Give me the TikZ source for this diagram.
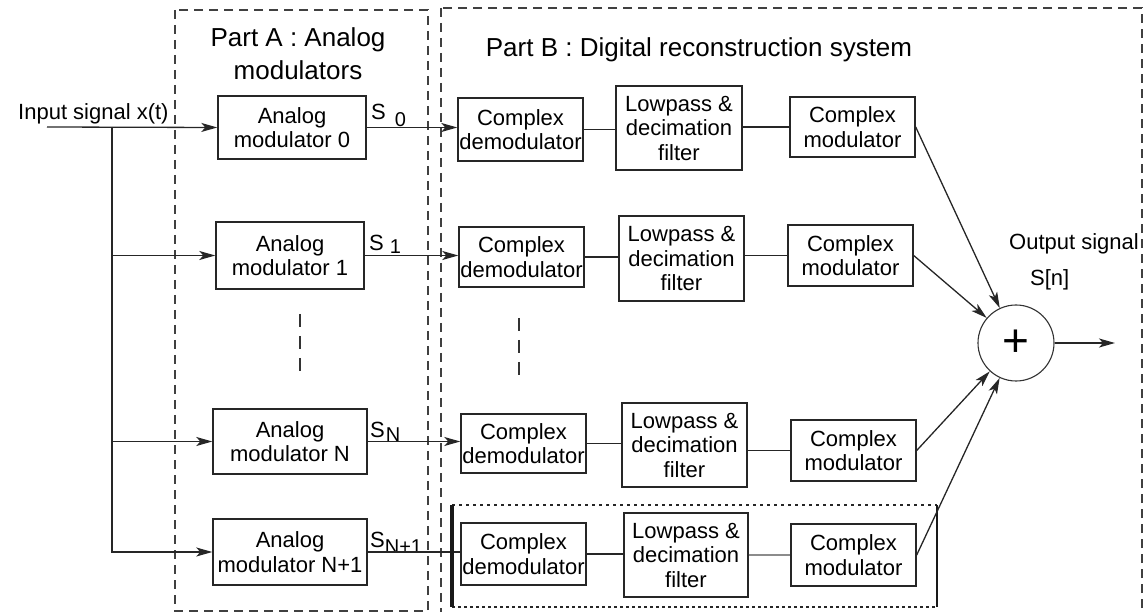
\documentclass[tikz,border=0pt]{standalone}
\usepackage{fontspec}
\setmainfont{Liberation Sans}
\usetikzlibrary{arrows.meta}
\newcommand{\blkfont}{\fontsize{22}{24.5}\selectfont}
\newcommand{\ttlfont}{\fontsize{26}{33}\selectfont}
\newcommand{\subfont}{\fontsize{20}{20}\selectfont}
\begin{document}
\begin{tikzpicture}[x=1pt,y=-1pt,
  blk/.style={draw=black!85, line width=1.4pt, inner sep=0pt, align=center, font=\blkfont},
  wire/.style={draw=black!85, line width=1.3pt},
  arr/.style={wire, -{Stealth[length=16pt,width=9pt,inset=4pt]}},
  frame/.style={draw=black!75, line width=1.1pt, dash pattern=on 9pt off 6pt},
  ellip/.style={draw=black!80, line width=1.3pt, dash pattern=on 13pt off 9pt},
  lbl/.style={inner sep=0pt, font=\blkfont},
  sl/.style={inner sep=0pt, font=\blkfont, anchor=base west}]
\useasboundingbox (0,0) rectangle (1144,612);
\clip (0,0) rectangle (1144,612);

% part frames
\draw[frame] (175,10) rectangle (428,611);
\draw[frame] (441,8) rectangle (1142,640);
\node[lbl, align=center, font=\ttlfont] (ttlA) at (298,54) {Part A : Analog\\modulators};
\node[lbl, font=\ttlfont] (ttlB) at (699,50) {Part B : Digital reconstruction system};

% analog modulators
\node[blk, minimum width=148, minimum height=63] (A0) at (292,127.5) {Analog\\modulator 0};
\node[blk, minimum width=148, minimum height=67] (A1) at (290,255.5) {Analog\\modulator 1};
\node[blk, minimum width=154, minimum height=65] (AN) at (290,441.5) {Analog\\modulator N};
\node[blk, minimum width=154, minimum height=66] (AN1) at (290,552) {Analog\\modulator N+1};

% complex demodulators
\node[blk, minimum width=125, minimum height=63] (D0) at (520.5,129.5) {Complex\\demodulator};
\node[blk, minimum width=125, minimum height=60] (D1) at (521.5,257) {Complex\\demodulator};
\node[blk, minimum width=125, minimum height=59] (DN) at (523.5,443.5) {Complex\\demodulator};
\node[blk, minimum width=125, minimum height=62] (DN1) at (523.5,554) {Complex\\demodulator};

% lowpass & decimation filters
\node[blk, minimum width=126, minimum height=84] (L0) at (679,128) {Lowpass \&\\decimation\\filter};
\node[blk, minimum width=125, minimum height=85] (L1) at (681.5,258.5) {Lowpass \&\\decimation\\filter};
\node[blk, minimum width=125, minimum height=84] (LN) at (684.5,445) {Lowpass \&\\decimation\\filter};
\node[blk, minimum width=124, minimum height=84] (LN1) at (686,555) {Lowpass \&\\decimation\\filter};

% complex modulators
\node[blk, minimum width=125, minimum height=60] (M0) at (852.5,127) {Complex\\modulator};
\node[blk, minimum width=125, minimum height=61] (M1) at (850.5,255.5) {Complex\\modulator};
\node[blk, minimum width=125, minimum height=61] (MN) at (853.5,450.5) {Complex\\modulator};
\node[blk, minimum width=125, minimum height=62] (MN1) at (853.5,555) {Complex\\modulator};

% summing junction
\node[draw=black!80, line width=1.1pt, circle, minimum size=76, inner sep=0pt,
      font=\fontsize{46}{46}\selectfont] (sum) at (1016,343) {+};

% input distribution
\node[sl] (xin) at (18,120) {Input signal x(t)};
\coordinate (in) at (47,127);
\coordinate (j0) at (112,127);
\draw[arr] (in) -- (A0.west);
\draw[arr] (j0) |- (AN1.west);
\draw[arr] (j0 |- A1.west) -- (A1.west);
\draw[arr] (j0 |- AN.west) -- (AN.west);

% signal labels
\node[sl] (s0) at (371,120) {S\hspace{9pt}\raisebox{-7pt}{\subfont 0}};
\node[sl] (s1) at (369,251) {S\hspace{6pt}\raisebox{-3pt}{\subfont 1}};
\node[sl] (sN) at (370,437) {S\hspace{1pt}\raisebox{-5pt}{\subfont N}};
\node[sl] (sN1) at (370,547) {S\hspace{0pt}\raisebox{-6pt}{\subfont N+1}};

% modulator outputs to demodulators
\draw[arr] (A0.east) -- (A0.east -| D0.west);
\draw[arr] (A1.east) -- (A1.east -| D1.west);
\draw[arr] (AN.east) -- (AN.east -| DN.west);
\draw[wire] (AN1.east) -- (AN1.east -| DN1.west);

% demodulator -> filter -> modulator
\draw[wire] (D0.east) -- (D0.east -| L0.west);
\draw[wire] (M0.west -| L0.east) -- (M0.west);
\draw[wire] (D1.east) -- (D1.east -| L1.west);
\draw[wire] (M1.west -| L1.east) -- (M1.west);
\draw[wire] (DN.east) -- (DN.east -| LN.west);
\draw[wire] (MN.west -| LN.east) -- (MN.west);
\draw[wire] (DN1.east) -- (DN1.east -| LN1.west);
\draw[wire, draw=black!45] (MN1.west -| LN1.east) -- (MN1.west);

% omitted branches
\draw[ellip] (300,314) -- (300,378);
\draw[ellip] (519,318) -- (519,382);

% highlighted extra branch
\coordinate (bx0) at (452,505);
\coordinate (bx1) at (937,607);
\draw[black!85, line width=1.3pt, dash pattern=on 3pt off 4pt] (bx0) -- (bx0 -| bx1);
\draw[black!85, line width=2pt, dash pattern=on 3pt off 3pt] (bx0 |- bx1) -- (bx1);
\draw[black!90, line width=3.2pt] (bx0) -- (bx0 |- bx1);
\draw[black!90, line width=2.6pt] (bx0 -| bx1) -- (bx1);

% modulators to summing junction
\draw[arr] (M0.east) -- (sum);
\draw[arr] (M1.east) -- (sum);
\draw[arr] (MN.east) -- (sum);
\draw[arr] (MN1.east) -- (sum);

% output
\coordinate (out) at (1115,343);
\draw[arr] (sum.east) -- (out);
\node[sl] (otxt) at (1009,250) {Output signal};
\node[sl] (osym) at (1030,286) {S[n]};
\end{tikzpicture}
\end{document}
